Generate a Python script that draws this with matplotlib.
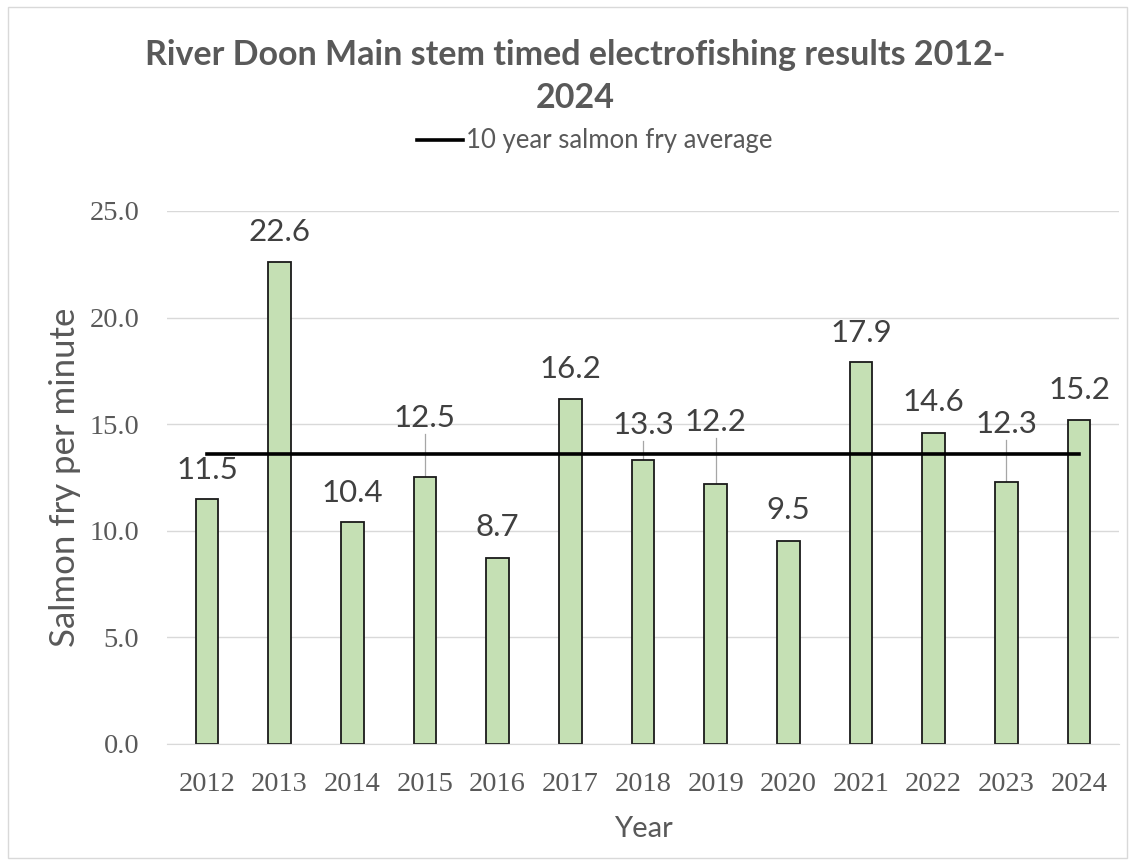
import numpy as np
import matplotlib
matplotlib.use("Agg")
import matplotlib.pyplot as plt
from matplotlib.lines import Line2D
from matplotlib.patches import Rectangle

# survey years and timed electrofishing results (salmon fry per minute)
years = ["2012", "2013", "2014", "2015", "2016", "2017", "2018",
         "2019", "2020", "2021", "2022", "2023", "2024"]
fry_per_min = [11.5, 22.6, 10.4, 12.5, 8.7, 16.2, 13.3, 12.2, 9.5, 17.9, 14.6, 12.3, 15.2]
ten_year_avg = [13.6, 13.6, 13.6, 13.6, 13.6, 13.6, 13.6, 13.6, 13.6, 13.6, 13.6, 13.6, 13.6]

# where each value label sits (y in data units); some were dragged up with leader lines
label_y = [12.85, 24.0, 11.77, 15.3, 10.2, 17.6, 14.96, 15.1, 10.98, 19.3, 16.04, 15.0, 16.6]
has_leader = [False, False, False, True, False, False, True, True, False, False, False, True, False]

SANS = ["Lato", "DejaVu Sans"]
SERIF = ["Liberation Serif", "DejaVu Serif"]
GREY = "#595959"

fig = plt.figure(figsize=(11.35, 8.65), dpi=100)
fig.patches.append(Rectangle((0.007, 0.008), 0.986, 0.984, transform=fig.transFigure,
                             fill=False, edgecolor="#d9d9d9", linewidth=1.0))
ax = fig.add_axes([0.1471, 0.1399, 0.8388, 0.6162])

x = np.arange(len(years))
ax.bar(x, fry_per_min, width=0.31, color="#c5e0b4", edgecolor="#1a1a1a",
       linewidth=1.3, zorder=2)
ax.plot(x, ten_year_avg, color="black", linewidth=2.6, zorder=3)

# value labels
for i, v in enumerate(fry_per_min):
    ax.text(x[i], label_y[i], "%.1f" % v, ha="center", va="center",
            fontsize=22.5, color="#404040", family=SANS, zorder=4)
    if has_leader[i]:
        ax.plot([x[i], x[i]], [v, label_y[i] - 0.75], color="#a6a6a6",
                linewidth=0.9, zorder=1)

# axes
ax.set_xlim(-0.55, len(years) - 0.45)
ax.set_ylim(0, 25)
ax.set_yticks(np.arange(0, 25.1, 5))
ax.set_yticklabels(["%.1f" % t for t in np.arange(0, 25.1, 5)])
ax.set_xticks(x)
ax.set_xticklabels(years)
ax.grid(axis="y", color="#d9d9d9", linewidth=1.0, zorder=0)
ax.set_axisbelow(True)
for s in ["top", "right", "left"]:
    ax.spines[s].set_visible(False)
ax.spines["bottom"].set_color("#d9d9d9")
ax.tick_params(axis="both", length=0, labelcolor=GREY, labelsize=20.5)
ax.tick_params(axis="x", pad=20)
ax.tick_params(axis="y", pad=20)
for lab in ax.get_xticklabels() + ax.get_yticklabels():
    lab.set_family(SERIF)

ax.set_xlabel("Year", fontsize=21, color=GREY, family=SANS, labelpad=14)
ax.set_ylabel("Salmon fry per minute", fontsize=25, color=GREY, family=SANS, va="center")
ax.yaxis.set_label_coords(-0.107, 0.5)

# title and legend
fig.text(0.507, 0.936, "River Doon Main stem timed electrofishing results 2012-",
         ha="center", va="center", fontsize=24.5, fontweight="bold", color=GREY, family=SANS)
fig.text(0.507, 0.887, "2024", ha="center", va="center", fontsize=24.5,
         fontweight="bold", color=GREY, family=SANS)
fig.legend(handles=[Line2D([], [], color="black", linewidth=2.6)],
           labels=["10 year salmon fry average"], loc="center",
           bbox_to_anchor=(0.524, 0.837), frameon=False, handlelength=1.8,
           handletextpad=0.1, prop={"family": SANS, "size": 18.5}, labelcolor=GREY)

fig.savefig("out.png", dpi=100)
